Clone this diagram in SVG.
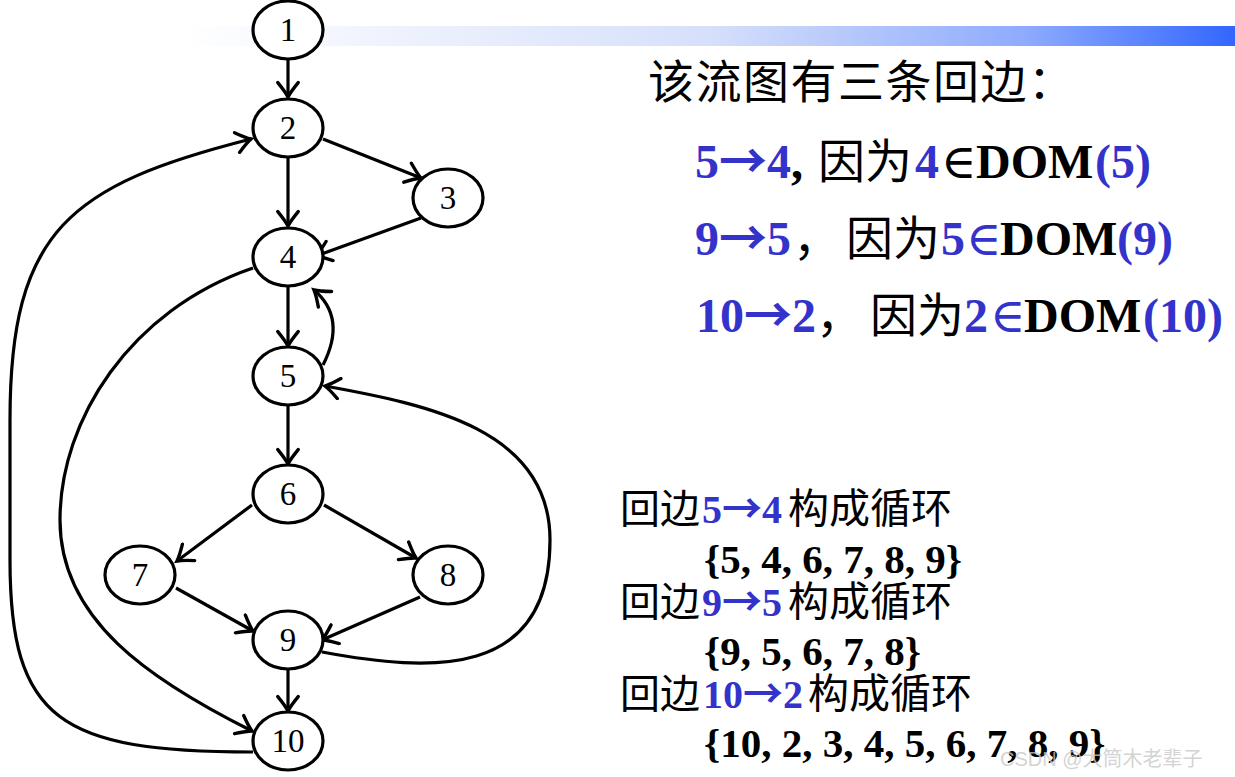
<svg xmlns="http://www.w3.org/2000/svg" width="1235" height="777" viewBox="0 0 1235 777">
<style>
.node ellipse{fill:#fff;stroke:#000;stroke-width:3.2}
.node text{font-family:"Liberation Serif","DejaVu Serif",serif;font-size:33px;text-anchor:middle;fill:#000}
.edges path{fill:none;stroke:#000;stroke-width:3.2}
.t{font-family:"Liberation Serif","Noto Sans CJK SC",serif;fill:#000}
.b{fill:#3333CC;font-weight:bold}
.k{font-weight:bold}
.ar{font-family:"Noto Sans CJK SC",sans-serif;font-weight:bold}
.el{font-family:"DejaVu Serif",serif;font-weight:normal}
.cj{font-family:"Noto Sans CJK SC",sans-serif;font-weight:normal}
</style>
<defs>
<linearGradient id="bar" x1="0" y1="0" x2="1" y2="0">
<stop offset="0" stop-color="#FFFFFF"/>
<stop offset="0.5" stop-color="#D6E0FB"/>
<stop offset="0.8" stop-color="#8EABFD"/>
<stop offset="1" stop-color="#3366FF"/>
</linearGradient>
<marker id="ah" markerUnits="userSpaceOnUse" markerWidth="24" markerHeight="24" viewBox="-14 -10 18 20" refX="0" refY="0" orient="auto">
<path d="M-12,-8.5 Q-4,-2 0,0 Q-4,2 -12,8.5" fill="none" stroke="#000" stroke-width="2.8" stroke-linecap="round"/>
</marker>
</defs>
<rect x="180" y="26" width="1055" height="20" fill="url(#bar)"/>
<g class="edges" marker-end="url(#ah)">
<path d="M288,59 L288,97"/>
<path d="M288,157 L288,226"/>
<path d="M323,139 L421,178"/>
<path d="M421,218 L316,256"/>
<path d="M288,286 L288,346"/>
<path d="M323,365 Q347,318 314,290"/>
<path d="M288,405 L288,464"/>
<path d="M252,505 L177,561"/>
<path d="M324,505 L416,558"/>
<path d="M176,588 L253,631"/>
<path d="M420,597 L322,640"/>
<path d="M288,669 L288,711"/>
<path d="M322,652 C430,672 550,680 550,540 C550,430 430,405 325,386"/>
<path d="M253,268 C130,310 60,420 60,520 C60,620 150,680 252,731"/>
<path d="M253,752 C60,752 10,720 10,560 L10,420 C10,230 70,185 251,139"/>
</g>
<g id="n1" class="node"><ellipse cx="288" cy="30" rx="35" ry="29"/><text x="288" y="41">1</text></g>
<g id="n2" class="node"><ellipse cx="288" cy="128" rx="35" ry="29"/><text x="288" y="139">2</text></g>
<g id="n3" class="node"><ellipse cx="448" cy="198" rx="35" ry="29"/><text x="448" y="209">3</text></g>
<g id="n4" class="node"><ellipse cx="288" cy="257" rx="35" ry="29"/><text x="288" y="268">4</text></g>
<g id="n5" class="node"><ellipse cx="288" cy="376" rx="35" ry="29"/><text x="288" y="387">5</text></g>
<g id="n6" class="node"><ellipse cx="288" cy="494" rx="35" ry="29"/><text x="288" y="505">6</text></g>
<g id="n7" class="node"><ellipse cx="140" cy="575" rx="35" ry="29"/><text x="140" y="586">7</text></g>
<g id="n8" class="node"><ellipse cx="448" cy="575" rx="35" ry="29"/><text x="448" y="586">8</text></g>
<g id="n9" class="node"><ellipse cx="288" cy="640" rx="35" ry="29"/><text x="288" y="651">9</text></g>
<g id="n10" class="node"><ellipse cx="288" cy="741" rx="35" ry="29"/><text x="288" y="752">10</text></g>
<g id="texts">
<text class="t" x="648" y="98" font-size="46" letter-spacing="1.5">该流图有三条回边：</text>
<text class="t" y="178" font-size="48"><tspan class="b" x="695">5<tspan class="ar">→</tspan>4</tspan><tspan class="k" x="791">,</tspan><tspan class="cj" x="818" font-size="47">因为</tspan><tspan class="b" x="915">4</tspan><tspan class="el" x="941">∈</tspan><tspan class="k" x="976">DOM</tspan><tspan class="b" x="1095">(5)</tspan></text>
<text class="t" y="255" font-size="48"><tspan class="b" x="695">9<tspan class="ar">→</tspan>5</tspan><tspan class="cj" x="793" font-size="47">，</tspan><tspan class="cj" x="846" font-size="47">因为</tspan><tspan class="b" x="941">5</tspan><tspan class="b el" x="966">∈</tspan><tspan class="k" x="1000">DOM</tspan><tspan class="b" x="1117">(9)</tspan></text>
<text class="t" y="332" font-size="48"><tspan class="b" x="696">10<tspan class="ar">→</tspan>2</tspan><tspan class="cj" x="816" font-size="47">，</tspan><tspan class="cj" x="870" font-size="47">因为</tspan><tspan class="b" x="964">2</tspan><tspan class="b el" x="990">∈</tspan><tspan class="k" x="1024">DOM</tspan><tspan class="b" x="1143">(10)</tspan></text>
<text class="t" y="523" font-size="40"><tspan class="cj" x="620" font-size="40">回边</tspan><tspan class="b" x="702">5<tspan class="ar">→</tspan>4</tspan><tspan class="cj" x="788" font-size="41">构成循环</tspan></text>
<text class="t k" x="704" y="573" font-size="41">{5, 4, 6, 7, 8, 9}</text>
<text class="t" y="616" font-size="40"><tspan class="cj" x="620" font-size="40">回边</tspan><tspan class="b" x="702">9<tspan class="ar">→</tspan>5</tspan><tspan class="cj" x="788" font-size="41">构成循环</tspan></text>
<text class="t k" x="704" y="665" font-size="41">{9, 5, 6, 7, 8}</text>
<text class="t" y="708" font-size="40"><tspan class="cj" x="620" font-size="40">回边</tspan><tspan class="b" x="703">10<tspan class="ar">→</tspan>2</tspan><tspan class="cj" x="808" font-size="41">构成循环</tspan></text>
<text class="t k" x="704" y="757" font-size="41">{10, 2, 3, 4, 5, 6, 7, 8, 9}</text>
<text x="1000" y="766" font-family="'Liberation Sans','Noto Sans CJK SC',sans-serif" font-size="20" fill="#C8C8C8" fill-opacity="0.8">CSDN @大筒木老辈子</text>
</g>
</svg>
